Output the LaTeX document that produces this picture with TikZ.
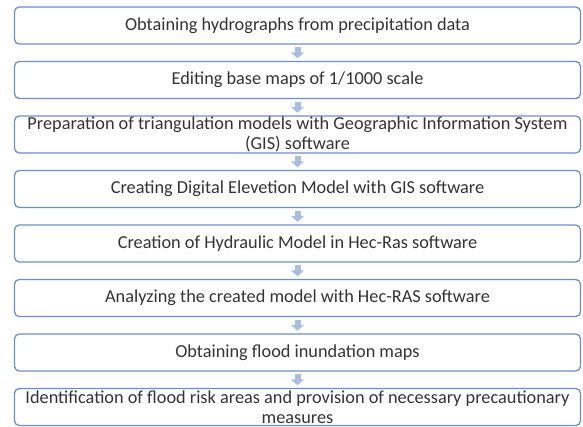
\documentclass[tikz,border=0pt]{standalone}
\usepackage{fontspec}
\setmainfont{Carlito}
\usepackage{tikz}
\usetikzlibrary{positioning}
\usetikzlibrary{arrows.meta}
\definecolor{boxline}{HTML}{6A8FC6}
\definecolor{arrowfill}{HTML}{A9BEDD}
\definecolor{textgray}{HTML}{333333}
\tikzset{stepbox/.style={draw=boxline, line width=1.3pt, rounded corners=1ex, minimum width=566pt, minimum height=37pt, align=center, inner sep=0pt, text=textgray, font=\fontsize{18.3}{20.5}\selectfont},
flow/.style={arrowfill, line width=6pt, -{Triangle[width=13pt,length=6pt]}, shorten <=2.5pt, shorten >=2.5pt}}

\begin{document}
\begin{tikzpicture}[node distance=54.5pt]
\useasboundingbox (0,0) rectangle (583pt,-427pt);
\node (hyd) [stepbox] at (297.5pt,-25.5pt) {Obtaining hydrographs from precipitation data};
\node (base) [stepbox, below of = hyd] {Editing base maps of 1/1000 scale};
\node (tin) [stepbox, below of = base] {Preparation of triangulation models with Geographic Information System\\(GIS) software};
\node (dem) [stepbox, below of = tin] {Creating Digital Elevetion Model with GIS software};
\node (hydr) [stepbox, below of = dem] {Creation of Hydraulic Model in Hec-Ras software};
\node (anl) [stepbox, below of = hydr] {Analyzing the created model with Hec-RAS software};
\node (inun) [stepbox, below of = anl] {Obtaining flood inundation maps};
\node (risk) [stepbox, below of = inun] {Identification of flood risk areas and provision of necessary precautionary\\measures};
\draw[flow] (hyd) -- (base);
\draw[flow] (base) -- (tin);
\draw[flow] (tin) -- (dem);
\draw[flow] (dem) -- (hydr);
\draw[flow] (hydr) -- (anl);
\draw[flow] (anl) -- (inun);
\draw[flow] (inun) -- (risk);
\end{tikzpicture}
\end{document}
